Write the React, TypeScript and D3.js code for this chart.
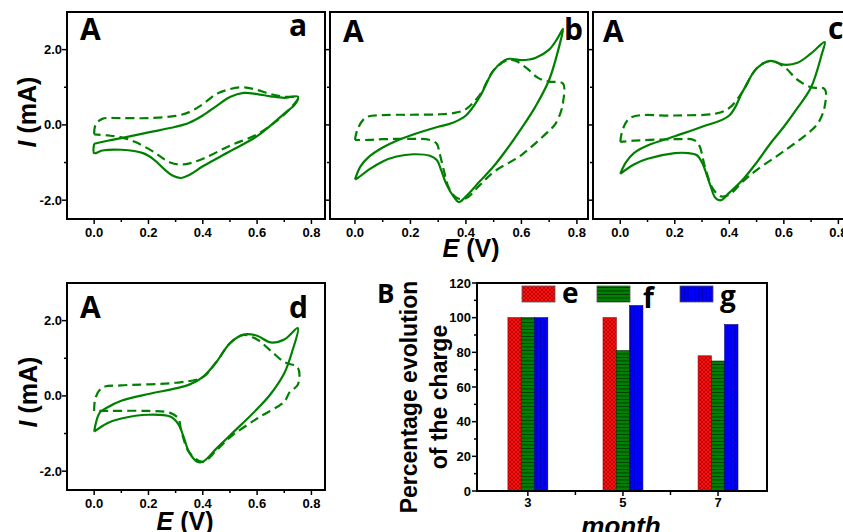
import * as d3 from 'd3'

type Pt = [number, number]

// CV loops, [E (V), I (mA)], traced round the cycle
const aSolid: Pt[] = [[0, -0.5], [0.05, -0.42], [0.1, -0.35], [0.2, -0.2], [0.3, -0.05], [0.35, 0.06], [0.4, 0.25], [0.45, 0.5], [0.5, 0.74], [0.55, 0.85], [0.6, 0.82], [0.65, 0.76], [0.7, 0.72], [0.75, 0.75], [0.74, 0.55], [0.7, 0.3], [0.6, -0.3], [0.5, -0.7], [0.4, -1.1], [0.35, -1.33], [0.32, -1.41], [0.29, -1.35], [0.26, -1.19], [0.22, -0.92], [0.18, -0.75], [0.1, -0.66], [0.03, -0.68], [0, -0.75], [0, -0.5]]
const aDashed: Pt[] = [[0, -0.25], [0.005, 0.0], [0.03, 0.16], [0.1, 0.18], [0.2, 0.18], [0.3, 0.24], [0.35, 0.34], [0.4, 0.55], [0.45, 0.82], [0.5, 0.95], [0.55, 1.0], [0.6, 0.93], [0.65, 0.82], [0.7, 0.75], [0.75, 0.72], [0.73, 0.5], [0.68, 0.15], [0.6, -0.25], [0.5, -0.55], [0.4, -0.9], [0.33, -1.05], [0.28, -1.0], [0.22, -0.72], [0.15, -0.45], [0.1, -0.33], [0.05, -0.28], [0, -0.25]]

const bSolid: Pt[] = [[0, -1.45], [0.02, -1.1], [0.05, -0.85], [0.1, -0.6], [0.15, -0.42], [0.2, -0.28], [0.3, -0.05], [0.35, 0.05], [0.4, 0.25], [0.45, 0.75], [0.5, 1.45], [0.55, 1.75], [0.6, 1.72], [0.65, 1.78], [0.7, 2.0], [0.73, 2.3], [0.75, 2.55], [0.74, 2.2], [0.7, 1.2], [0.65, 0.48], [0.6, -0.09], [0.55, -0.62], [0.5, -1.1], [0.45, -1.5], [0.4, -1.9], [0.375, -2.05], [0.355, -1.9], [0.33, -1.58], [0.31, -1.19], [0.295, -0.93], [0.27, -0.82], [0.21, -0.78], [0.15, -0.84], [0.1, -0.97], [0.05, -1.19], [0.01, -1.41], [0, -1.45]]
const bDashed: Pt[] = [[0, -0.4], [0.01, -0.1], [0.04, 0.2], [0.1, 0.26], [0.2, 0.27], [0.3, 0.28], [0.36, 0.32], [0.4, 0.42], [0.45, 0.8], [0.5, 1.45], [0.55, 1.72], [0.58, 1.7], [0.62, 1.5], [0.66, 1.25], [0.7, 1.15], [0.75, 1.1], [0.75, 0.6], [0.74, 0.3], [0.72, 0.0], [0.7, -0.15], [0.6, -0.8], [0.5, -1.25], [0.45, -1.6], [0.4, -1.95], [0.37, -1.95], [0.34, -1.7], [0.32, -1.2], [0.305, -0.75], [0.295, -0.5], [0.27, -0.4], [0.2, -0.37], [0.1, -0.38], [0.05, -0.4], [0, -0.4]]

const cSolid: Pt[] = [[0, -1.3], [0.02, -1.0], [0.05, -0.75], [0.1, -0.55], [0.2, -0.3], [0.3, -0.05], [0.4, 0.25], [0.45, 0.9], [0.5, 1.5], [0.55, 1.7], [0.6, 1.6], [0.65, 1.65], [0.7, 1.9], [0.75, 2.2], [0.74, 1.9], [0.7, 1.0], [0.65, 0.45], [0.6, -0.05], [0.55, -0.5], [0.5, -1.0], [0.45, -1.45], [0.4, -1.8], [0.37, -2.0], [0.35, -1.95], [0.33, -1.6], [0.3, -1.0], [0.28, -0.8], [0.25, -0.75], [0.2, -0.75], [0.1, -0.9], [0.05, -1.05], [0, -1.3]]
const cDashed: Pt[] = [[0, -0.45], [0.01, -0.1], [0.04, 0.2], [0.2, 0.25], [0.35, 0.3], [0.4, 0.45], [0.45, 0.9], [0.5, 1.5], [0.55, 1.7], [0.6, 1.55], [0.65, 1.2], [0.7, 1.0], [0.75, 0.95], [0.75, 0.5], [0.73, 0.1], [0.7, -0.15], [0.6, -0.7], [0.5, -1.2], [0.45, -1.5], [0.4, -1.85], [0.37, -1.9], [0.34, -1.7], [0.31, -1.1], [0.29, -0.55], [0.27, -0.4], [0.2, -0.38], [0.05, -0.42], [0, -0.45]]

const dSolid: Pt[] = [[0, -0.95], [0.02, -0.45], [0.05, -0.3], [0.1, -0.13], [0.2, 0.05], [0.3, 0.2], [0.35, 0.3], [0.4, 0.5], [0.45, 0.9], [0.5, 1.4], [0.55, 1.63], [0.6, 1.6], [0.65, 1.42], [0.7, 1.5], [0.75, 1.8], [0.73, 1.2], [0.7, 0.6], [0.65, 0.05], [0.6, -0.35], [0.5, -1.05], [0.45, -1.4], [0.4, -1.75], [0.38, -1.75], [0.35, -1.5], [0.33, -1.1], [0.31, -0.75], [0.28, -0.55], [0.2, -0.5], [0.1, -0.6], [0.05, -0.72], [0, -0.95]]
const dDashed: Pt[] = [[0, -0.4], [0.005, -0.05], [0.03, 0.22], [0.1, 0.28], [0.3, 0.35], [0.4, 0.5], [0.45, 0.9], [0.5, 1.4], [0.55, 1.62], [0.6, 1.5], [0.65, 1.2], [0.7, 0.9], [0.75, 0.75], [0.75, 0.3], [0.72, 0.1], [0.7, -0.15], [0.6, -0.6], [0.5, -1.1], [0.45, -1.45], [0.4, -1.75], [0.35, -1.5], [0.32, -0.9], [0.31, -0.6], [0.28, -0.45], [0.2, -0.4], [0.05, -0.4], [0, -0.4]]

const cvXTicks = [0, 0.2, 0.4, 0.6, 0.8]
const cvXMinor = [0.1, 0.3, 0.5, 0.7]
const cvYTicks = [-2, 0, 2]
const cvYMinor = [-1, 1]

// charge evolution, %
const months = [3, 5, 7]
const eCharge = [100, 100, 78]
const fCharge = [100, 81, 75]
const gCharge = [100, 107, 96]
const chargeTicks = [0, 20, 40, 60, 80, 100, 120]
const chargeMinor = [10, 30, 50, 70, 90, 110]
const monthMinor = [4, 6]

const green = '#008000'
const sans = '"Liberation Sans", Arial, sans-serif'
const tagFont = '"Open Sans", sans-serif'

type Box = { left: number; right: number; top: number; bottom: number }

function CvPanel({ box, xDomain, solid, dashed, yLabels, tags }: {
  box: Box
  xDomain: [number, number]
  solid: Pt[]
  dashed: Pt[]
  yLabels: boolean
  tags: { text: string; x: number; y: number }[]
}) {
  const x = d3.scaleLinear().domain(xDomain).range([box.left, box.right])
  const y = d3.scaleLinear().domain([-2.5, 3]).range([box.bottom, box.top])
  const line = d3.line<Pt>().x((d) => x(d[0])).y((d) => y(d[1])).curve(d3.curveCatmullRom.alpha(0.5))

  return (
    <g>
      <path d={line(dashed) || ''} fill="none" stroke={green} strokeWidth={2.2} strokeDasharray="9 5" />
      <path d={line(solid) || ''} fill="none" stroke={green} strokeWidth={2.2} />
      <rect x={box.left} y={box.top} width={box.right - box.left} height={box.bottom - box.top} fill="none" stroke="#000" strokeWidth={2} />
      {cvXTicks.map((t) => (
        <g key={'x' + t}>
          <line x1={x(t)} x2={x(t)} y1={box.bottom} y2={box.bottom + 5} stroke="#000" strokeWidth={1.5} />
          <text x={x(t)} y={box.bottom + 18} textAnchor="middle" fontFamily={sans} fontWeight="bold" fontSize={13}>{t.toFixed(1)}</text>
        </g>
      ))}
      {cvXMinor.map((t) => (
        <line key={'xm' + t} x1={x(t)} x2={x(t)} y1={box.bottom} y2={box.bottom + 3} stroke="#000" strokeWidth={1.5} />
      ))}
      {cvYTicks.map((t) => (
        <g key={'y' + t}>
          <line x1={box.left - 5} x2={box.left} y1={y(t)} y2={y(t)} stroke="#000" strokeWidth={1.5} />
          {yLabels && (
            <text x={box.left - 5} y={y(t) + 4.5} textAnchor="end" fontFamily={sans} fontWeight="bold" fontSize={13}>{t.toFixed(1)}</text>
          )}
        </g>
      ))}
      {cvYMinor.map((t) => (
        <line key={'ym' + t} x1={box.left - 3} x2={box.left} y1={y(t)} y2={y(t)} stroke="#000" strokeWidth={1.5} />
      ))}
      {tags.map((t) => (
        <text key={t.text + t.x} x={t.x} y={t.y} fontFamily={tagFont} fontWeight="bold" fontSize={30}>{t.text}</text>
      ))}
    </g>
  )
}

function ChargeBars() {
  const box: Box = { left: 477, right: 767, top: 283, bottom: 491 }
  const x = d3.scaleLinear().domain([1.93, 8.03]).range([box.left, box.right])
  const y = d3.scaleLinear().domain([0, 120]).range([box.bottom, box.top])
  const bw = 13.3
  const series = [
    { name: 'e', values: eCharge, fill: 'url(#hatchRed)', stroke: '#8b0000' },
    { name: 'f', values: fCharge, fill: 'url(#hatchGreen)', stroke: '#003000' },
    { name: 'g', values: gCharge, fill: 'url(#hatchBlue)', stroke: '#00007a' },
  ]
  const legend = [
    { rx: 522, tx: 562, ty: 303 },
    { rx: 597, tx: 643, ty: 308 },
    { rx: 680, tx: 720, ty: 306 },
  ]

  return (
    <g>
      {series.map((s, si) =>
        months.map((m, i) => (
          <rect
            key={s.name + m}
            x={x(m) + (si - 1.5) * bw}
            y={y(s.values[i])}
            width={bw}
            height={y(0) - y(s.values[i])}
            fill={s.fill}
            stroke={s.stroke}
            strokeWidth={0.6}
          />
        )),
      )}
      {series.map((s, si) => (
        <g key={'lg' + s.name}>
          <rect x={legend[si].rx} y={286} width={33} height={16} fill={s.fill} stroke="#555" strokeWidth={0.8} />
          <text x={legend[si].tx} y={legend[si].ty} fontFamily={tagFont} fontWeight="bold" fontSize={28}>{s.name}</text>
        </g>
      ))}
      <rect x={box.left} y={box.top} width={box.right - box.left} height={box.bottom - box.top} fill="none" stroke="#000" strokeWidth={2} />
      {chargeTicks.map((t) => (
        <g key={'cy' + t}>
          <line x1={box.left - 5} x2={box.left} y1={y(t)} y2={y(t)} stroke="#000" strokeWidth={1.5} />
          <text x={box.left - 6} y={y(t) + 4.5} textAnchor="end" fontFamily={sans} fontWeight="bold" fontSize={13}>{t}</text>
        </g>
      ))}
      {chargeMinor.map((t) => (
        <line key={'cym' + t} x1={box.left - 3} x2={box.left} y1={y(t)} y2={y(t)} stroke="#000" strokeWidth={1.5} />
      ))}
      {months.map((m) => (
        <g key={'cx' + m}>
          <line x1={x(m)} x2={x(m)} y1={box.bottom} y2={box.bottom + 5} stroke="#000" strokeWidth={1.5} />
          <text x={x(m)} y={box.bottom + 16} textAnchor="middle" fontFamily={sans} fontWeight="bold" fontSize={13}>{m}</text>
        </g>
      ))}
      {monthMinor.map((m) => (
        <line key={'cxm' + m} x1={x(m)} x2={x(m)} y1={box.bottom} y2={box.bottom + 4} stroke="#000" strokeWidth={1.5} />
      ))}
      <text x={377} y={303} fontFamily={tagFont} fontWeight="bold" fontSize={26}>B</text>
      <text transform="translate(417,397) rotate(-90)" textAnchor="middle" fontFamily={sans} fontWeight="bold" fontSize={23}>Percentage evolution</text>
      <text transform="translate(447,397) rotate(-90)" textAnchor="middle" fontFamily={sans} fontWeight="bold" fontSize={23}>of the charge</text>
      <text x={621} y={535} textAnchor="middle" fontFamily={sans} fontWeight="bold" fontStyle="italic" fontSize={26}>month</text>
    </g>
  )
}

export default function App() {
  return (
    <svg width={843} height={532} style={{ position: 'absolute', left: 0, top: 0, background: '#fff' }}>
      <defs>
        <pattern id="hatchRed" width={4} height={4} patternUnits="userSpaceOnUse">
          <rect width={4} height={4} fill="#ff1010" />
          <path d="M0,0 L4,4 M4,0 L0,4" stroke="#a00000" strokeWidth={0.7} />
        </pattern>
        <pattern id="hatchGreen" width={4} height={3.5} patternUnits="userSpaceOnUse">
          <rect width={4} height={3.5} fill="#008000" />
          <line x1={0} x2={4} y1={0.4} y2={0.4} stroke="#002800" strokeWidth={0.8} />
        </pattern>
        <pattern id="hatchBlue" width={3.6} height={4} patternUnits="userSpaceOnUse">
          <rect width={3.6} height={4} fill="#0000ff" />
          <line x1={0.4} x2={0.4} y1={0} y2={4} stroke="#000090" strokeWidth={0.8} />
        </pattern>
      </defs>
      <rect width={843} height={532} fill="#fff" />

      <CvPanel box={{ left: 67, right: 325, top: 12, bottom: 219 }} xDomain={[-0.1, 0.85]} solid={aSolid} dashed={aDashed} yLabels
        tags={[{ text: 'A', x: 80, y: 40 }, { text: 'a', x: 289, y: 36 }]} />
      <CvPanel box={{ left: 330, right: 588, top: 12, bottom: 219 }} xDomain={[-0.09, 0.84]} solid={bSolid} dashed={bDashed} yLabels={false}
        tags={[{ text: 'A', x: 343, y: 42 }, { text: 'b', x: 564, y: 40 }]} />
      <CvPanel box={{ left: 593, right: 852, top: 12, bottom: 219 }} xDomain={[-0.1, 0.85]} solid={cSolid} dashed={cDashed} yLabels={false}
        tags={[{ text: 'A', x: 603, y: 42 }, { text: 'c', x: 828, y: 39 }]} />
      <CvPanel box={{ left: 67, right: 325, top: 283, bottom: 490 }} xDomain={[-0.1, 0.85]} solid={dSolid} dashed={dDashed} yLabels
        tags={[{ text: 'A', x: 80, y: 318 }, { text: 'd', x: 289, y: 318 }]} />

      <text transform="translate(36,112) rotate(-90)" textAnchor="middle" fontFamily={sans} fontWeight="bold" fontSize={25}>
        <tspan fontStyle="italic">I</tspan> (mA)
      </text>
      <text transform="translate(37,392) rotate(-90)" textAnchor="middle" fontFamily={sans} fontWeight="bold" fontSize={25}>
        <tspan fontStyle="italic">I</tspan> (mA)
      </text>
      <text x={471} y={257} textAnchor="middle" fontFamily={sans} fontWeight="bold" fontSize={25}>
        <tspan fontStyle="italic">E</tspan> (V)
      </text>
      <text x={185} y={530} textAnchor="middle" fontFamily={sans} fontWeight="bold" fontSize={25}>
        <tspan fontStyle="italic">E</tspan> (V)
      </text>

      <ChargeBars />
    </svg>
  )
}
